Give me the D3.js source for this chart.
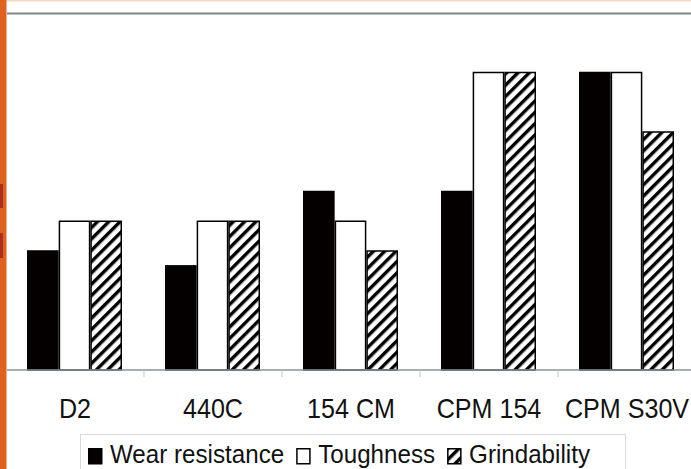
<!DOCTYPE html>
<html>
<head>
<meta charset="utf-8">
<script src="https://cdn.jsdelivr.net/npm/d3@7"></script>
<style>
  html, body { margin: 0; padding: 0; background: #fff; }
  svg { display: block; font-family: "Liberation Sans", Arial, sans-serif; }
</style>
</head>
<body>
<div id="chart"></div>
<script>
const categories = ['D2', '440C', '154 CM', 'CPM 154', 'CPM S30V']
const seriesNames = ['Wear resistance', 'Toughness', 'Grindability']
const wearResistance = [4, 3.5, 6, 6, 10]
const toughness = [5, 5, 5, 10, 10]
const grindability = [5, 5, 4, 10, 8]
const yDomain = [0, 10]

const width = 691
const height = 469
const fontSize = 27
const legendFontSize = 26
const squeeze = 0.93 // text in the source is a little narrow

const svg = d3.select('#chart')
  .append('svg')
  .attr('width', width)
  .attr('height', height)

// hatch pattern
const defs = svg.append('defs')
const pat = defs.append('pattern')
  .attr('id', 'hatch')
  .attr('patternUnits', 'userSpaceOnUse')
  .attr('width', 8)
  .attr('height', 8)
  .attr('patternTransform', 'rotate(45)')
pat.append('rect').attr('width', 8).attr('height', 8).attr('fill', '#fff')
pat.append('rect').attr('x', 0).attr('width', 3.4).attr('height', 8).attr('fill', '#000')

// frame bits
svg.append('rect').attr('x', 0).attr('y', 0).attr('width', width).attr('height', 1.5).attr('fill', '#f7d9c4')
svg.append('rect').attr('x', 0).attr('y', 0).attr('width', 6.5).attr('height', height).attr('fill', '#e0621f')
svg.append('rect').attr('x', 0).attr('y', 184).attr('width', 3).attr('height', 24).attr('fill', '#a8301c')
svg.append('rect').attr('x', 0).attr('y', 233).attr('width', 3).attr('height', 25).attr('fill', '#a8301c')
svg.append('line')
  .attr('x1', 7).attr('x2', width).attr('y1', 13.5).attr('y2', 13.5)
  .attr('stroke', '#7f8688').attr('stroke-width', 2)

const x = d3.scaleBand().domain(categories).range([6, 696]).padding(0)
const xs = d3.scaleBand().domain(seriesNames).range([21, 116]).padding(0)
const y = d3.scaleLinear().domain(yDomain).range([370, 72.5])

const series = [
  { name: seriesNames[0], values: wearResistance, fill: '#050000', stroke: '#050000' },
  { name: seriesNames[1], values: toughness, fill: '#fff', stroke: '#000' },
  { name: seriesNames[2], values: grindability, fill: 'url(#hatch)', stroke: '#000' },
]

const bars = svg.append('g')
series.forEach(s => {
  bars.append('g')
    .selectAll('rect')
    .data(categories.map((c, i) => ({ c, v: s.values[i] })))
    .join('rect')
    .attr('x', d => x(d.c) + xs(s.name) + 0.75)
    .attr('y', d => y(d.v))
    .attr('width', xs.bandwidth() - 1.5)
    .attr('height', d => y(0) - y(d.v))
    .attr('fill', s.fill)
    .attr('stroke', s.stroke)
    .attr('stroke-width', 1.5)
})

// x axis
const xAxis = svg.append('g').attr('transform', `translate(0,${y(0)})`)
xAxis.append('line')
  .attr('x1', 7).attr('x2', width)
  .attr('stroke', '#8a9498').attr('stroke-width', 1.5)
xAxis.selectAll('line.tick')
  .data(categories.slice(1))
  .join('line')
  .attr('class', 'tick')
  .attr('x1', d => x(d)).attr('x2', d => x(d))
  .attr('y1', 0).attr('y2', 7)
  .attr('stroke', '#b5cad6').attr('stroke-width', 1)
xAxis.selectAll('text')
  .data(categories)
  .join('text')
  .attr('transform', d => `translate(${x(d) + x.bandwidth() / 2},48) scale(${squeeze},1)`)
  .attr('text-anchor', 'middle')
  .attr('font-size', fontSize)
  .attr('fill', '#111')
  .text(d => d)

// legend
const legend = svg.append('g')
legend.append('rect')
  .attr('x', 80.5).attr('y', 434.5)
  .attr('width', 545).attr('height', 60)
  .attr('fill', 'none').attr('stroke', '#d6dadc').attr('stroke-width', 1)

let lx = 88
series.forEach(s => {
  legend.append('rect')
    .attr('x', lx + 0.75).attr('y', 448.75)
    .attr('width', 13).attr('height', 15)
    .attr('fill', s.fill).attr('stroke', s.stroke).attr('stroke-width', 1.5)
  const t = legend.append('text')
    .attr('transform', `translate(${lx + 22},463) scale(${squeeze},1)`)
    .attr('font-size', legendFontSize)
    .attr('fill', '#111')
    .text(s.name)
  lx += 22 + t.node().getComputedTextLength() * squeeze + 12
})
</script>
</body>
</html>
